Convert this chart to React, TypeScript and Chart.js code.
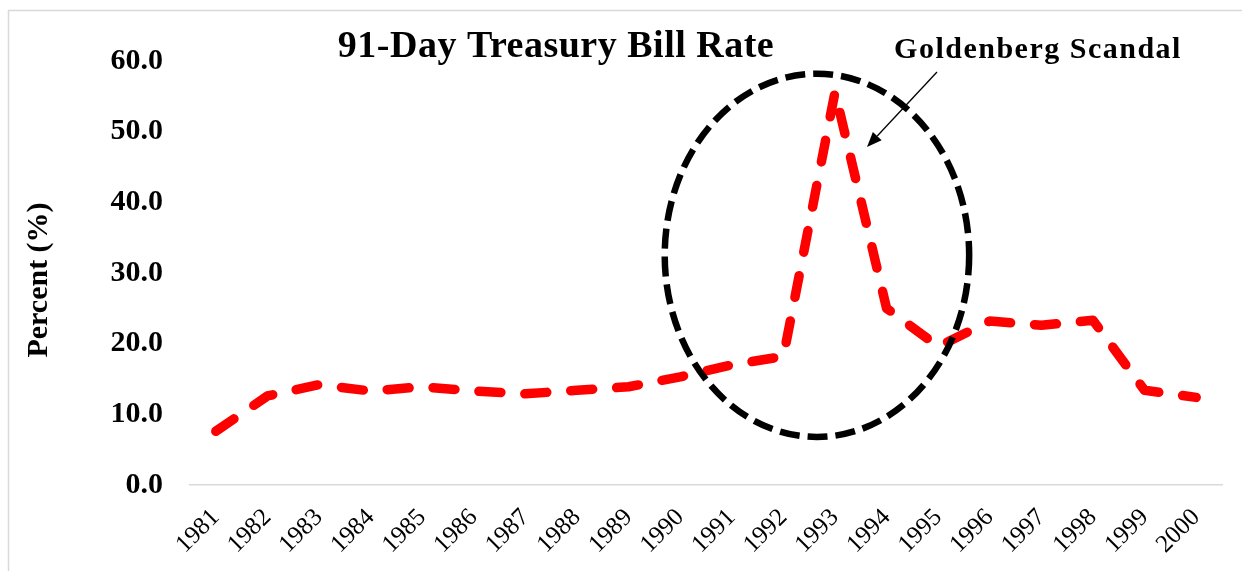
import React, { useEffect, useRef } from "react";
import { Chart, registerables } from "chart.js";

Chart.register(...registerables);

const years = [
  "1981", "1982", "1983", "1984", "1985", "1986", "1987", "1988", "1989", "1990",
  "1991", "1992", "1993", "1994", "1995", "1996", "1997", "1998", "1999", "2000",
];
const tbillRate = [
  7.6, 12.6, 14.2, 13.3, 13.9, 13.3, 12.9, 13.4, 13.9, 15.3,
  17.0, 18.2, 55.6, 25.0, 19.6, 23.2, 22.6, 23.3, 13.4, 12.4,
];
const yTicks = [0, 10, 20, 30, 40, 50, 60];
const chartTitle = "91-Day Treasury Bill Rate";
const annotationText = "Goldenberg Scandal";
const yAxisLabel = "Percent (%)";

const SERIF = '"Liberation Serif", "Times New Roman", serif';

export default function App() {
  const ref = useRef<HTMLCanvasElement>(null);

  useEffect(() => {
    const canvas = ref.current!;

    const decor = {
      id: "decor",
      beforeDraw(chart: any) {
        const ctx = chart.ctx;
        ctx.save();
        ctx.strokeStyle = "#d9d9d9";
        ctx.lineWidth = 1.5;
        ctx.beginPath();
        ctx.moveTo(8.5, 575);
        ctx.lineTo(8.5, 10.5);
        ctx.lineTo(1250, 10.5);
        ctx.stroke();
        ctx.restore();
      },
      afterDatasetsDraw(chart: any) {
        const ctx = chart.ctx;
        const xs = chart.scales.x;
        const ys = chart.scales.y;
        // dashed ellipse around the 1993 spike (data coordinates)
        const cx = xs.getPixelForValue(11.65);
        const cy = ys.getPixelForValue(32.5);
        const rx = Math.abs(xs.getPixelForValue(11.65 + 2.95) - cx);
        const ry = Math.abs(ys.getPixelForValue(32.5 + 25.7) - cy);
        ctx.save();
        ctx.strokeStyle = "#000";
        ctx.lineWidth = 6.5;
        ctx.setLineDash([20, 8]);
        ctx.beginPath();
        ctx.ellipse(cx, cy, rx, ry, 0, 0, Math.PI * 2);
        ctx.stroke();
        ctx.restore();
      },
      afterDraw(chart: any) {
        const ctx = chart.ctx;
        ctx.save();
        ctx.fillStyle = "#000";
        // title
        ctx.font = `bold 38px ${SERIF}`;
        ctx.textAlign = "center";
        ctx.textBaseline = "alphabetic";
        (ctx as any).letterSpacing = "0.5px";
        ctx.fillText(chartTitle, 556, 57);
        // annotation text
        ctx.font = `bold 30px ${SERIF}`;
        (ctx as any).letterSpacing = "1.5px";
        ctx.fillText(annotationText, 1038, 58);
        (ctx as any).letterSpacing = "0px";
        // arrow
        const x1 = 937, y1 = 72, x2 = 867, y2 = 147;
        const ang = Math.atan2(y2 - y1, x2 - x1);
        const hl = 15, hw = 6;
        const bx = x2 - hl * Math.cos(ang);
        const by = y2 - hl * Math.sin(ang);
        ctx.strokeStyle = "#000";
        ctx.lineWidth = 1.3;
        ctx.beginPath();
        ctx.moveTo(x1, y1);
        ctx.lineTo(bx, by);
        ctx.stroke();
        ctx.beginPath();
        ctx.moveTo(x2, y2);
        ctx.lineTo(bx + hw * Math.sin(ang), by - hw * Math.cos(ang));
        ctx.lineTo(bx - hw * Math.sin(ang), by + hw * Math.cos(ang));
        ctx.closePath();
        ctx.fill();
        // y axis label
        ctx.translate(39, 280);
        ctx.rotate(-Math.PI / 2);
        ctx.font = `bold 30px ${SERIF}`;
        ctx.textAlign = "center";
        ctx.textBaseline = "middle";
        ctx.fillText(yAxisLabel, 0, 0);
        ctx.restore();
      },
    };

    const chart = new Chart(canvas, {
      type: "line",
      data: {
        labels: years,
        datasets: [
          {
            data: tbillRate,
            borderColor: "#ff0000",
            borderWidth: 9.5,
            borderDash: [22, 24],
            borderCapStyle: "round",
            borderJoinStyle: "round",
            pointRadius: 0,
            tension: 0,
            fill: false,
          },
        ],
      },
      options: {
        responsive: false,
        animation: false,
        devicePixelRatio: 1,
        layout: { padding: { left: 0, right: 20, top: 61, bottom: 0 } },
        plugins: {
          legend: { display: false },
          tooltip: { enabled: false },
          title: { display: false },
        },
        scales: {
          x: {
            offset: true,
            grid: { display: false, drawTicks: false },
            border: { display: true, color: "#d9d9d9", width: 1.5 },
            ticks: {
              color: "#000",
              font: { family: SERIF, size: 25 },
              minRotation: 45,
              maxRotation: 45,
              padding: 18,
              autoSkip: false,
            },
            afterFit: (s: any) => {
              s.height = 86;
            },
          },
          y: {
            min: 0,
            max: 60,
            grid: { display: false, drawTicks: false },
            border: { display: false },
            afterBuildTicks: (s: any) => {
              s.ticks = yTicks.map((v) => ({ value: v }));
            },
            ticks: {
              color: "#000",
              font: { family: SERIF, size: 30, weight: "bold" },
              padding: 27,
              callback: (v: any) => Number(v).toFixed(1),
            },
            afterFit: (s: any) => {
              s.width = 190;
            },
          },
        },
      },
      plugins: [decor],
    } as any);

    return () => chart.destroy();
  }, []);

  return (
    <canvas
      ref={ref}
      width={1242}
      height={571}
      style={{ position: "fixed", left: 0, top: 0, width: 1242, height: 571 }}
    />
  );
}
